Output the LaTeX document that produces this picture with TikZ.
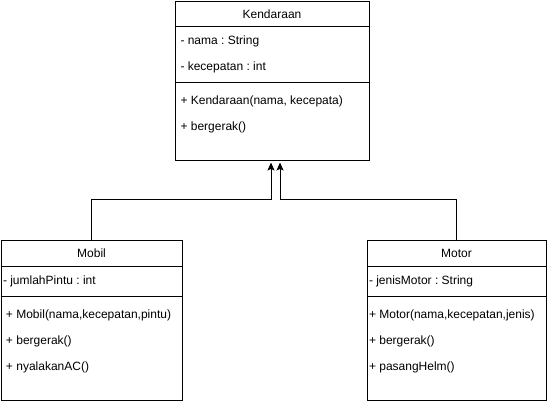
\documentclass[tikz,border=0pt]{standalone}
\usepackage{fontspec}
\setmainfont{Liberation Sans}
\frenchspacing
\usetikzlibrary{fit,arrows.meta}

\begin{document}
\begin{tikzpicture}[x=0.75pt, y=-0.75pt, line width=0.75pt,
  font=\fontsize{9}{11}\selectfont,
  classbox/.style={draw, inner sep=0pt},
  classname/.style={anchor=base, inner sep=0pt},
  member/.style={anchor=base west, inner sep=0pt},
  inherit/.style={-{Stealth[length=6pt, width=5.25pt, inset=1.2pt]}, shorten >=1.5pt}]
\useasboundingbox (0,0) rectangle (549,401);

\node[classbox, fit={(175,1) (369,160)}] (kendaraan) {};
\node[classname] (kendaraan name) at (272,18) {Kendaraan};
\draw (kendaraan.west |- 0,26) -- (kendaraan.east |- 0,26);
\node[member] (nama) at (180,44) {- nama : String};
\node[member] (kecepatan) at (180,70) {- kecepatan : int};
\draw (kendaraan.west |- 0,82) -- (kendaraan.east |- 0,82);
\node[member] (kendaraan constructor) at (180,104) {+ Kendaraan(nama, kecepata)};
\node[member] (kendaraan bergerak) at (180,130) {+ bergerak()};

\node[classbox, fit={(1,240) (182,400)}] (mobil) {};
\node[classname] (mobil name) at (91.5,257) {Mobil};
\draw (mobil.west |- 0,266) -- (mobil.east |- 0,266);
\node[member] (jumlah pintu) at (2.5,284) {- jumlahPintu : int};
\draw (mobil.west |- 0,296) -- (mobil.east |- 0,296);
\node[member] (mobil constructor) at (5.5,318) {+ Mobil(nama,kecepatan,pintu)};
\node[member] (mobil bergerak) at (5.5,344) {+ bergerak()};
\node[member] (nyalakan ac) at (5.5,370) {+ nyalakanAC()};

\node[classbox, fit={(367,240) (546,400)}] (motor) {};
\node[classname] (motor name) at (456.5,257) {Motor};
\draw (motor.west |- 0,266) -- (motor.east |- 0,266);
\node[member] (jenis motor) at (368.5,284) {- jenisMotor : String};
\draw (motor.west |- 0,296) -- (motor.east |- 0,296);
\node[member] (motor constructor) at (368.5,318) {+ Motor(nama,kecepatan,jenis)};
\node[member] (motor bergerak) at (368.5,344) {+ bergerak()};
\node[member] (pasang helm) at (368.5,370) {+ pasangHelm()};

\draw[inherit] (mobil.north) -- ++(0,-40) -| ([xshift=-0.75pt]kendaraan.south);
\draw[inherit] (motor.north) -- ++(0,-40) -| ([xshift=6pt]kendaraan.south);
\end{tikzpicture}
\end{document}
